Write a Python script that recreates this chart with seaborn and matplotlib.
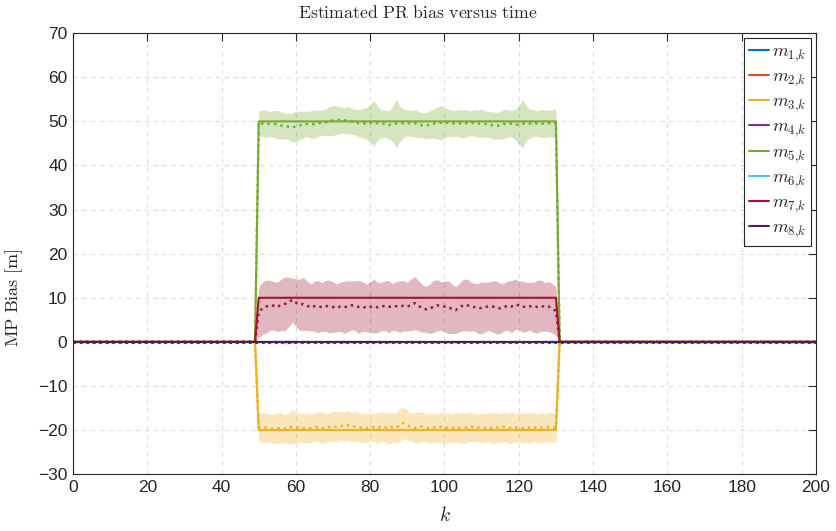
import numpy as np
import pandas as pd
import matplotlib
matplotlib.use('Agg')
import matplotlib.pyplot as plt
import seaborn as sns

# time axis and bias window
k = np.arange(0, 201)
bias_start, bias_end = 50, 130

labels = [r'$m_{%d{,}k}$' % i for i in range(1, 9)]
colors = ['#0072BD', '#D95319', '#EDB120', '#7E2F8E',
          '#77AC30', '#4DBEEE', '#A2142F', '#4A1D5E']
true_bias = [0, 0, -20, 0, 50, 0, 10, 0]

# estimated biases (k = 50..130)
m5_est = [49.6, 49.5, 49.5, 49.4, 49.4, 49.3, 49.1, 48.9, 48.8, 48.6,
          48.9, 49.1, 49.3, 49.4, 49.3, 49.4, 49.6, 49.7, 49.8, 50.1,
          50.2, 50.3, 50.3, 50.2, 50.3, 50.0, 49.8, 49.6, 49.6, 49.5,
          49.7, 49.5, 49.6, 49.4, 49.5, 49.2, 49.4, 49.5, 49.5, 49.6,
          49.7, 49.5, 49.6, 49.3, 49.1, 49.0, 49.3, 49.5, 49.6, 49.7,
          49.6, 49.7, 49.5, 49.6, 49.6, 49.4, 49.6, 49.5, 49.7, 49.5,
          49.6, 49.4, 49.3, 49.1, 49.0, 49.1, 49.4, 49.6, 49.5, 49.3,
          49.2, 49.5, 49.6, 49.5, 49.7, 49.5, 49.6, 49.4, 49.6, 49.5,
          49.6]
m5_sd = [2.9, 3.0, 3.1, 2.8, 3.0, 3.2, 3.1, 2.9, 3.0, 3.3,
         3.4, 3.2, 3.0, 2.9, 3.1, 3.2, 3.0, 2.8, 3.0, 3.3,
         3.4, 3.2, 3.0, 2.9, 3.1, 3.0, 2.9, 3.1, 3.3, 3.6,
         4.2, 5.2, 3.8, 3.1, 3.0, 3.2, 3.9, 5.5, 4.0, 3.2,
         3.0, 2.9, 3.1, 3.0, 2.8, 3.0, 3.1, 3.3, 3.6, 4.0,
         3.4, 3.1, 3.0, 2.9, 3.1, 3.2, 3.0, 2.8, 3.0, 3.1,
         3.2, 3.0, 2.9, 3.1, 3.0, 3.2, 3.3, 3.1, 3.0, 3.4,
         4.3, 5.5, 4.0, 3.2, 3.0, 2.9, 3.1, 3.2, 3.0, 3.1,
         3.3]
m7_est = [6.8, 7.6, 8.0, 8.3, 8.2, 7.9, 8.4, 8.6, 9.0, 9.5,
          8.9, 8.4, 8.6, 8.2, 7.8, 8.1, 8.0, 7.9, 8.2, 8.0,
          7.9, 7.7, 8.0, 7.8, 8.1, 8.3, 8.2, 7.9, 8.0, 7.7,
          7.9, 8.1, 7.8, 8.0, 8.2, 8.0, 7.9, 8.1, 8.0, 8.2,
          8.0, 8.4, 8.8, 8.2, 7.6, 7.4, 7.5, 8.0, 8.3, 8.1,
          8.0, 7.9, 7.5, 7.2, 7.8, 8.3, 8.4, 8.0, 7.9, 7.6,
          7.7, 7.9, 8.1, 8.0, 7.8, 7.6, 7.9, 8.2, 8.0, 8.5,
          8.3, 8.0, 7.9, 8.1, 7.8, 8.0, 8.2, 7.9, 8.0, 7.6,
          7.0]
m7_sd = [5.8, 5.9, 6.0, 5.7, 5.5, 5.6, 5.8, 6.1, 5.7, 5.0,
         5.4, 5.8, 6.0, 5.6, 5.3, 5.7, 5.9, 5.5, 5.8, 6.0,
         5.7, 5.4, 5.6, 5.9, 5.8, 5.5, 5.7, 6.0, 5.6, 5.4,
         5.8, 6.1, 5.7, 5.5, 5.6, 5.9, 5.3, 5.6, 5.8, 5.7,
         5.5, 5.9, 6.0, 5.7, 5.4, 5.2, 5.6, 5.9, 5.8, 5.5,
         5.7, 6.0, 5.6, 5.3, 5.5, 5.8, 5.9, 5.6, 5.4, 5.7,
         5.9, 5.6, 5.5, 5.8, 6.0, 5.7, 5.4, 5.6, 5.9, 5.7,
         5.5, 5.8, 5.6, 5.4, 5.7, 6.0, 5.8, 5.5, 5.7, 5.6,
         5.5]
m3_est = [-19.3, -19.5, -19.4, -19.6, -19.7, -19.6, -19.5, -19.7, -19.6, -19.2,
          -19.4, -19.5, -19.6, -19.5, -19.6, -19.4, -19.3, -19.5, -19.6, -19.3,
          -19.2, -19.3, -19.0, -19.2, -18.9, -19.3, -19.2, -19.4, -19.5, -19.6,
          -19.3, -19.4, -19.6, -19.2, -19.4, -19.6, -19.3, -19.5, -18.8, -18.4,
          -18.9, -19.3, -19.5, -19.4, -19.2, -19.5, -19.6, -19.4, -19.5, -19.3,
          -19.6, -19.4, -19.5, -19.3, -19.5, -19.6, -19.4, -19.2, -19.5, -19.4,
          -19.6, -19.5, -19.3, -19.6, -19.4, -19.5, -19.3, -19.6, -19.4, -19.5,
          -19.3, -19.6, -19.4, -19.5, -19.3, -19.6, -19.4, -19.5, -19.3, -19.4,
          -19.5]
m3_sd = [3.2, 3.4, 3.3, 3.1, 3.3, 3.5, 3.4, 3.2, 3.6, 3.9,
         3.5, 3.3, 3.2, 3.4, 3.3, 3.1, 3.4, 3.6, 3.3, 3.2,
         3.4, 3.5, 3.3, 3.2, 3.4, 3.3, 3.5, 3.2, 3.4, 3.3,
         3.1, 3.3, 3.5, 3.4, 3.2, 3.6, 3.3, 3.4, 3.8, 3.5,
         3.3, 3.2, 3.4, 3.5, 3.3, 3.1, 3.4, 3.3, 3.2, 3.4,
         3.5, 3.3, 3.2, 3.4, 3.3, 3.5, 3.2, 3.4, 3.3, 3.1,
         3.4, 3.2, 3.3, 3.5, 3.4, 3.2, 3.3, 3.4, 3.6, 3.3,
         3.2, 3.4, 3.3, 3.5, 3.2, 3.3, 3.4, 3.2, 3.3, 3.4,
         3.3]
# small blips of uncertainty on the unbiased m6
m6_blip_k = [57, 58, 73, 85, 101, 118]
m6_blip_sd = [0.5, 0.6, 0.4, 0.4, 0.3, 0.3]

#%% build series
df = pd.DataFrame({'k': k})
for i, lab in enumerate(labels):
    tb = np.zeros(len(k))
    tb[(k >= bias_start) & (k <= bias_end)] = true_bias[i]
    df['true_%d' % i] = tb
    df['est_%d' % i] = 0.0
    df['sd_%d' % i] = 0.0

sel = df['k'].between(bias_start, bias_end)
for i, est, sd in [(4, m5_est, m5_sd), (6, m7_est, m7_sd), (2, m3_est, m3_sd)]:
    df.loc[sel, 'est_%d' % i] = est
    df.loc[sel, 'sd_%d' % i] = sd
df.loc[df['k'].isin(m6_blip_k), 'sd_5'] = m6_blip_sd

#%% plot
sns.set_theme(style='white')
plt.rcParams['font.family'] = ['Liberation Sans', 'DejaVu Sans']
plt.rcParams['mathtext.fontset'] = 'cm'

fig = plt.figure(figsize=(8.37, 5.31), dpi=100)
ax = fig.add_axes([0.0872, 0.107, 0.8877, 0.8305])

handles = []
for i, lab in enumerate(labels):
    c = colors[i]
    lo = df['est_%d' % i] - df['sd_%d' % i]
    hi = df['est_%d' % i] + df['sd_%d' % i]
    if df['sd_%d' % i].any():
        ax.fill_between(df['k'], lo, hi, color=c, alpha=0.3, lw=0)
    sns.lineplot(data=df, x='k', y='true_%d' % i, color=c, lw=1.5, ax=ax)
    handles.append(ax.lines[-1])
    sns.lineplot(data=df, x='k', y='est_%d' % i, color=c, lw=1.8,
                 linestyle=(0, (1, 1.6)), ax=ax)

ax.set_xlim(0, 200)
ax.set_ylim(-30, 70)
ax.set_xticks(np.arange(0, 201, 20))
ax.set_yticks(np.arange(-30, 71, 10))
ax.grid(True, linestyle=(0, (4, 4)), color='#dcdcdc', lw=0.8)
ax.tick_params(direction='in', top=True, right=True, length=5.5, width=0.8,
               colors='#262626', labelsize=12.5, pad=4)
for s in ax.spines.values():
    s.set_color('#262626')
    s.set_linewidth(0.8)

ax.set_title(r'$\mathrm{Estimated\ PR\ bias\ versus\ time}$', fontsize=12.8,
             color='#262626', pad=11, x=0.464)
ax.set_xlabel(r'$k$', fontsize=14, color='#262626', labelpad=8)
ax.set_ylabel(r'$\mathrm{MP\ Bias\ [m]}$', fontsize=13, color='#262626', labelpad=9)
ax.yaxis.set_label_coords(-0.065, 0.40)

leg = ax.legend(handles, labels, loc='upper right', fontsize=13, frameon=True,
                fancybox=False, edgecolor='#262626', framealpha=1,
                handlelength=1.1, handletextpad=0.15, borderpad=0.3,
                labelspacing=0.25, borderaxespad=0.25)
leg.get_frame().set_linewidth(0.8)

fig.savefig('out.png', dpi=100)
